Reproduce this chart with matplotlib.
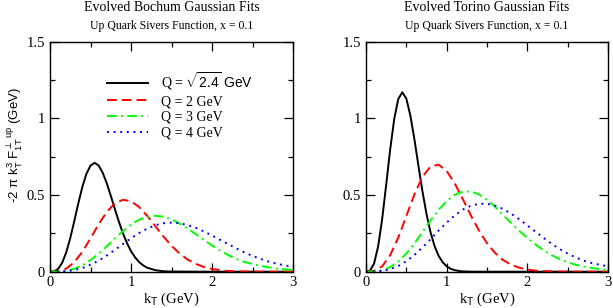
import numpy as np
import matplotlib
matplotlib.use("Agg")
import matplotlib.pyplot as plt

plt.rcParams['font.family'] = 'serif'
plt.rcParams['font.serif'] = ['Liberation Serif']
plt.rcParams['mathtext.fontset'] = 'custom'
plt.rcParams['mathtext.rm'] = 'Liberation Sans'
plt.rcParams['mathtext.it'] = 'Liberation Sans:italic'
plt.rcParams['mathtext.sf'] = 'Liberation Sans'

# kT grids (GeV)
k_narrow = [0, 0.05, 0.1, 0.15, 0.2, 0.25, 0.3, 0.35, 0.4, 0.45, 0.5, 0.55, 0.6, 0.65,
            0.7, 0.75, 0.8, 0.85, 0.9, 0.95, 1.0, 1.05, 1.1, 1.15, 1.2, 1.3, 1.4, 1.5,
            2.0, 2.5, 3.0]
k_wide = [0, 0.1, 0.2, 0.3, 0.4, 0.5, 0.6, 0.7, 0.8, 0.9, 1.0, 1.1, 1.2, 1.3, 1.4, 1.5,
          1.6, 1.7, 1.8, 1.9, 2.0, 2.1, 2.2, 2.3, 2.4, 2.5, 2.6, 2.7, 2.8, 2.9, 3.0]

# Bochum fits (left panel)
bochum_q0 = [0, 0.002, 0.018, 0.058, 0.125, 0.219, 0.330, 0.447, 0.554, 0.639, 0.692, 0.710,
             0.693, 0.646, 0.578, 0.496, 0.410, 0.327, 0.251, 0.187, 0.134, 0.094, 0.063,
             0.041, 0.026, 0.010, 0.003, 0.001, 0, 0, 0]
bochum_q2 = [0, 0.003, 0.020, 0.062, 0.130, 0.217, 0.309, 0.389, 0.446, 0.469, 0.460, 0.422,
             0.364, 0.297, 0.230, 0.169, 0.119, 0.079, 0.051, 0.031, 0.018, 0.010, 0.005,
             0.003, 0.001, 0.001, 0, 0, 0, 0, 0]
bochum_q3 = [0, 0.001, 0.006, 0.019, 0.041, 0.075, 0.117, 0.165, 0.216, 0.264, 0.307, 0.339,
             0.358, 0.365, 0.359, 0.341, 0.314, 0.281, 0.245, 0.207, 0.171, 0.138, 0.108,
             0.083, 0.064, 0.050, 0.038, 0.028, 0.021, 0.015, 0.011]
bochum_q4 = [0, 0.0004, 0.003, 0.011, 0.024, 0.045, 0.072, 0.105, 0.142, 0.180, 0.218, 0.252,
             0.281, 0.303, 0.316, 0.320, 0.316, 0.304, 0.286, 0.263, 0.236, 0.208, 0.180,
             0.152, 0.126, 0.103, 0.083, 0.066, 0.052, 0.041, 0.032]

# Torino fits (right panel)
torino_q0 = [0, 0.007, 0.053, 0.164, 0.342, 0.566, 0.798, 0.996, 1.126, 1.170, 1.129, 1.018,
             0.864, 0.691, 0.524, 0.376, 0.257, 0.167, 0.104, 0.062, 0.035, 0.019, 0.010,
             0.005, 0.002, 0.0005, 0, 0, 0, 0, 0]
torino_q2 = [0, 0.005, 0.035, 0.108, 0.222, 0.363, 0.504, 0.619, 0.686, 0.698, 0.657, 0.576,
             0.474, 0.367, 0.269, 0.186, 0.122, 0.076, 0.045, 0.026, 0.014, 0.007, 0.004,
             0.002, 0.001, 0, 0, 0, 0, 0, 0]
torino_q3 = [0, 0.001, 0.009, 0.030, 0.066, 0.118, 0.184, 0.258, 0.334, 0.404, 0.461, 0.502,
             0.522, 0.523, 0.504, 0.469, 0.423, 0.369, 0.318, 0.266, 0.220, 0.178, 0.140,
             0.108, 0.082, 0.061, 0.045, 0.033, 0.024, 0.017, 0.012]
torino_q4 = [0, 0.001, 0.005, 0.017, 0.037, 0.068, 0.109, 0.158, 0.212, 0.268, 0.320, 0.367,
             0.405, 0.430, 0.443, 0.443, 0.431, 0.409, 0.378, 0.342, 0.302, 0.261, 0.221,
             0.183, 0.148, 0.118, 0.093, 0.072, 0.056, 0.045, 0.035]

labels = [r"Q = $\sqrt{\mathrm{2.4}}\ \mathrm{GeV}$", "Q = 2 GeV", "Q = 3 GeV", "Q = 4 GeV"]
titles = ["Evolved Bochum Gaussian Fits", "Evolved Torino Gaussian Fits"]
subtitle = "Up Quark Sivers Function, x = 0.1"
xticks = [0, 1, 2, 3]
yticks = [0, 0.5, 1, 1.5]
yticklabels = ["0", "0.5", "1", "1.5"]

styles = [dict(color='black', ls='-'),
          dict(color='#ff0000', dashes=(5, 2.6)),
          dict(color='#00ff00', dashes=(5, 2.2, 1, 2.2)),
          dict(color='#0000ff', dashes=(1, 2.4))]

fig = plt.figure(figsize=(6.13, 3.08), dpi=100)
ax1 = fig.add_axes([50 / 613, 36.3 / 308, 243 / 613, 230 / 308])
ax2 = fig.add_axes([366 / 613, 36.3 / 308, 242 / 613, 230 / 308])

panels = [(ax1, [bochum_q0, bochum_q2, bochum_q3, bochum_q4]),
          (ax2, [torino_q0, torino_q2, torino_q3, torino_q4])]

for ax, curves in panels:
    for i, (vals, st) in enumerate(zip(curves, styles)):
        k = k_narrow if i == 0 else k_wide
        ax.plot(k, vals, lw=1.4, label=labels[i], **st)
    ax.set_xlim(0, 3)
    ax.set_ylim(0, 1.5)
    ax.set_xticks(xticks)
    ax.set_xticklabels([str(t) for t in xticks])
    ax.set_xticks([0.5, 1.5, 2.5], minor=True)
    ax.set_yticks(yticks)
    ax.set_yticklabels(yticklabels)
    ax.set_yticks([0.25, 0.75, 1.25], minor=True)
    ax.tick_params(which='both', direction='in', top=True, right=True, width=0.9,
                   labelsize=10.5)
    ax.tick_params(which='major', length=6.5)
    ax.tick_params(which='minor', length=3.6)
    ax.tick_params(axis='x', pad=3)
    ax.tick_params(axis='y', pad=3.5)
    for s in ax.spines.values():
        s.set_linewidth(1.0)
    ax.set_xlabel(r"k$_\mathrm{T}$ (GeV)", fontsize=10.5, labelpad=1)

ax1.set_ylabel(r"-2 π k$_\mathrm{T}^\mathrm{3}$ F$_\mathrm{1T}^{\perp\ \mathrm{up}}$ (GeV)",
               family='Liberation Sans', fontsize=9.5)
ax1.yaxis.set_label_coords(-0.145, 0.55)
ax1.yaxis.label.set_verticalalignment('center')

leg = ax1.legend(loc='upper left', bbox_to_anchor=(0.233, 0.875), frameon=False,
                 fontsize=10, handlelength=3.0, handletextpad=0.9, labelspacing=0.2,
                 borderpad=0, borderaxespad=0)

for ax, t in zip([ax1, ax2], titles):
    pos = ax.get_position()
    cx = pos.x0 + pos.width / 2
    fig.text(cx, 1 - 7.5 / 308, t, ha='center', va='center', fontsize=10)
    fig.text(cx, 1 - 25.5 / 308, subtitle, ha='center', va='center', fontsize=8.5)

fig.savefig("out.png", dpi=100)
